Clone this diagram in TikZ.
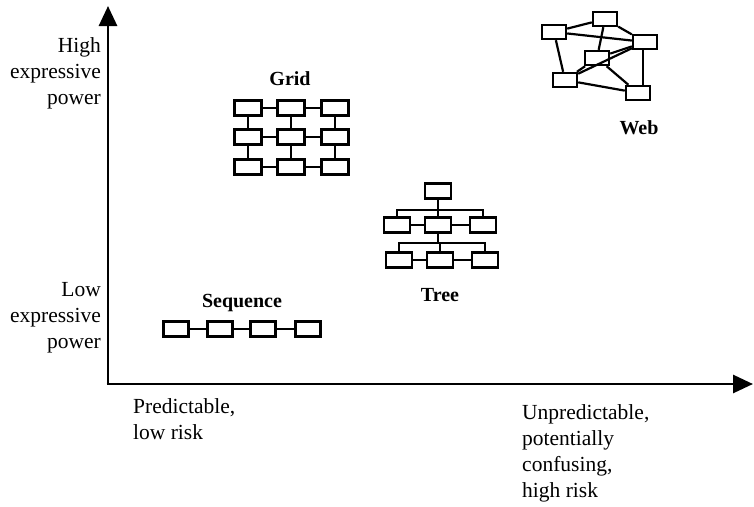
\documentclass[tikz,border=0pt]{standalone}
\usepackage{fontspec}
\setmainfont{Liberation Serif}
\usetikzlibrary{arrows.meta}
\begin{document}
\begin{tikzpicture}[x=1pt,y=-1pt,
  cell/.style={draw,line width=2.4pt,minimum width=26pt,minimum height=15pt,inner sep=0pt},
  wcell/.style={cell,minimum width=24pt,minimum height=14pt},
  link/.style={line width=2.2pt},
  axis/.style={line width=2.8pt,-{Triangle[length=20pt,width=18pt]}},
  lbl/.style={font=\fontsize{21.5}{26}\selectfont,inner sep=0pt},
  title/.style={font=\fontsize{20}{24}\selectfont\bfseries,inner sep=0pt}]
\useasboundingbox (0,0) rectangle (754,506);
% axes
\coordinate (O) at (108,384);
\coordinate (Ytop) at (108,6);
\coordinate (Xend) at (753,384);
\draw[axis] (O) -- (Ytop);
\draw[axis] ([xshift=-1.4pt]O) -- (Xend);
% axis labels
\node[lbl,align=right,anchor=east] (hi) at (101,73) {High\\expressive\\power};
\node[lbl,align=right,anchor=east] (lo) at (101,318) {Low\\expressive\\power};
\node[lbl,align=left,anchor=west] (pr) at (133,419) {Predictable,\\low risk};
\node[lbl,align=left,anchor=west] (un) at (522,453) {Unpredictable,\\potentially\\confusing,\\high risk};
% Sequence
\node[title] (seqt) at (242,303) {Sequence};
\node[cell,minimum width=25pt] (s1) at (176,329) {};
\node[cell,minimum width=25pt] (s2) at (220,329) {};
\node[cell,minimum width=25pt] (s3) at (263,329) {};
\node[cell,minimum width=25pt] (s4) at (308,329) {};
\draw[link] (s1) -- (s2) (s2) -- (s3) (s3) -- (s4);
% Grid
\node[title] (gridt) at (290,79) {Grid};
\foreach \r/\y in {1/108,2/137,3/167}{
  \foreach \c/\x in {1/248,2/291,3/335}{
    \node[cell,minimum width=27pt] (g\r\c) at (\x,\y) {};
  }
}
\foreach \r in {1,2,3}{
  \draw[link] (g\r1) -- (g\r2) (g\r2) -- (g\r3);
}
\foreach \c in {1,2,3}{
  \draw[link] (g1\c) -- (g2\c) (g2\c) -- (g3\c);
}
% Tree
\node[title] (treet) at (440,295) {Tree};
\node[cell] (t0) at (438,191) {};
\node[cell] (t1) at (397,225) {};
\node[cell] (t2) at (438,225) {};
\node[cell] (t3) at (483,225) {};
\node[cell] (t4) at (399,260) {};
\node[cell] (t5) at (440,260) {};
\node[cell] (t6) at (485,260) {};
\coordinate (bus1) at (438,210);
\coordinate (bus2) at (438,243);
\draw[link] (t0) -- (t2);
\draw[link] (t1.north) |- (bus1) -| (t3.north);
\draw[link] (t1) -- (t2) (t2) -- (t3);
\draw[link] (t2.south) -- (bus2);
\draw[link] (t4.north) |- (bus2) -| (t6.north);
\draw[link] (bus2) -| (t5.north);
\draw[link] (t4) -- (t5) (t5) -- (t6);
% Web
\node[title] (webt) at (639,128) {Web};
\node[wcell] (wa) at (554,32) {};
\node[wcell] (wb) at (605,19) {};
\node[wcell] (wc) at (645,42) {};
\node[wcell] (wd) at (597,58) {};
\node[wcell] (we) at (565,80) {};
\node[wcell] (wf) at (638,93) {};
\draw[link] (wa) -- (wb);
\draw[link] (wa) -- (wc);
\draw[link] (wa) -- (we);
\draw[link] (wb) -- (wd);
\draw[link] (wb) -- (wc);
\draw[link] ([xshift=-2pt]wc.south) -- ([xshift=-2pt]wc.south |- wf.north);
\draw[link] (wd) -- (wf);
\draw[link] (we) -- (wd);
\draw[link] (wd) -- (wc);
\draw[link] (we) -- (wc);
\draw[link] (we) -- (wf);
\end{tikzpicture}
\end{document}
